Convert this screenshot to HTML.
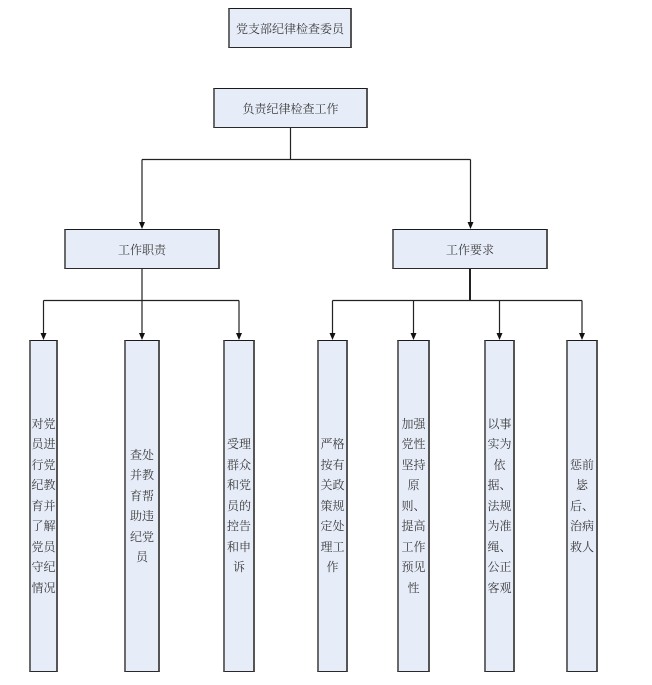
<!DOCTYPE html>
<html>
<head>
<meta charset="utf-8">
<style>
  html, body { margin: 0; padding: 0; background: #fff; }
  body { width: 652px; height: 685px; position: relative; overflow: hidden;
         font-family: "Liberation Serif", "Noto Serif CJK SC", serif; }
  .box { position: absolute; box-sizing: border-box; background: #e6ecf8;
         border-top: 1px solid #1a1a1a; border-bottom: 1px solid #2a2a2a;
         border-left: 2px solid #6a6a6a; border-right: 2px solid #555;
         color: #3a3a3a; font-size: 12px; }
  .h { display: flex; align-items: center; justify-content: center; white-space: nowrap; }
  .v { display: flex; flex-direction: column; align-items: center; justify-content: center;
       line-height: 20.5px; text-align: center; }
  .v span { display: block; white-space: nowrap; }
  svg { position: absolute; left: 0; top: 0; }
</style>
</head>
<body>
<svg width="652" height="685" viewBox="0 0 652 685">
  <g stroke="#222" stroke-width="1.2" fill="none">
    <line x1="290.5" y1="128" x2="290.5" y2="159.5"/>
    <line x1="142" y1="159.5" x2="470.5" y2="159.5"/>
    <line x1="142" y1="159.5" x2="142" y2="224"/>
    <line x1="470.5" y1="159.5" x2="470.5" y2="224"/>

    <line x1="142" y1="269" x2="142" y2="300.5"/>
    <line x1="43.5" y1="300.5" x2="239" y2="300.5"/>
    <line x1="43.5" y1="300.5" x2="43.5" y2="335"/>
    <line x1="142" y1="300.5" x2="142" y2="335"/>
    <line x1="239" y1="300.5" x2="239" y2="335"/>

    <line x1="470" y1="269" x2="470" y2="300.5" stroke-width="2"/>
    <line x1="332.5" y1="300.5" x2="582" y2="300.5"/>
    <line x1="332.5" y1="300.5" x2="332.5" y2="335"/>
    <line x1="413.5" y1="300.5" x2="413.5" y2="335"/>
    <line x1="499.5" y1="300.5" x2="499.5" y2="335"/>
    <line x1="582" y1="300.5" x2="582" y2="335"/>
  </g>
  <g fill="#111">
    <polygon points="139,222 145,222 142,229"/>
    <polygon points="467.5,222 473.5,222 470.5,229"/>
    <polygon points="40.5,333 46.5,333 43.5,340"/>
    <polygon points="139,333 145,333 142,340"/>
    <polygon points="236,333 242,333 239,340"/>
    <polygon points="329.5,333 335.5,333 332.5,340"/>
    <polygon points="410.5,333 416.5,333 413.5,340"/>
    <polygon points="496.5,333 502.5,333 499.5,340"/>
    <polygon points="579,333 585,333 582,340"/>
  </g>
</svg>

<div class="box h" style="left:228px;top:8px;width:124px;height:40px;">党支部纪律检查委员</div>
<div class="box h" style="left:213px;top:88px;width:155px;height:40px;">负责纪律检查工作</div>
<div class="box h" style="left:64px;top:229px;width:156px;height:40px;">工作职责</div>
<div class="box h" style="left:392px;top:229px;width:156px;height:40px;">工作要求</div>

<div class="box v" style="left:29px;top:340px;width:29px;height:332px;">
  <span>对党</span><span>员进</span><span>行党</span><span>纪教</span><span>育并</span><span>了解</span><span>党员</span><span>守纪</span><span>情况</span>
</div>
<div class="box v" style="left:124px;top:340px;width:36px;height:332px;">
  <span>查处</span><span>并教</span><span>育帮</span><span>助违</span><span>纪党</span><span>员</span>
</div>
<div class="box v" style="left:223px;top:340px;width:32px;height:332px;">
  <span>受理</span><span>群众</span><span>和党</span><span>员的</span><span>控告</span><span>和申</span><span>诉</span>
</div>
<div class="box v" style="left:317px;top:340px;width:31px;height:332px;">
  <span>严格</span><span>按有</span><span>关政</span><span>策规</span><span>定处</span><span>理工</span><span>作</span>
</div>
<div class="box v" style="left:397px;top:340px;width:33px;height:332px;">
  <span>加强</span><span>党性</span><span>坚持</span><span>原</span><span>则、</span><span>提高</span><span>工作</span><span>预见</span><span>性</span>
</div>
<div class="box v" style="left:484px;top:340px;width:31px;height:332px;">
  <span>以事</span><span>实为</span><span>依</span><span>据、</span><span>法规</span><span>为准</span><span>绳、</span><span>公正</span><span>客观</span>
</div>
<div class="box v" style="left:566px;top:340px;width:32px;height:332px;">
  <span>惩前</span><span>毖</span><span>后、</span><span>治病</span><span>救人</span>
</div>
</body>
</html>
